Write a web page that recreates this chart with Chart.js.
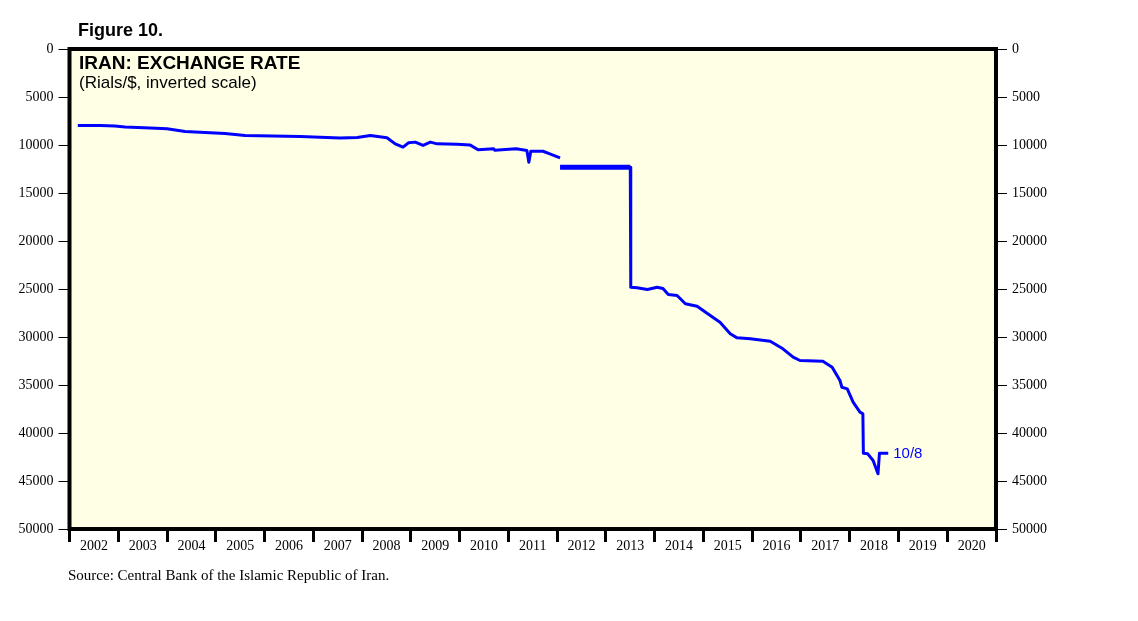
<!DOCTYPE html>
<html>
<head>
<meta charset="utf-8">
<script src="https://cdn.jsdelivr.net/npm/chart.js@4/dist/chart.umd.min.js"></script>
<style>
  body { margin: 0; background: #fff; }
  #wrap { position: relative; width: 1138px; height: 621px; }
  .txt { position: absolute; white-space: nowrap; line-height: 1; color: #000; }
  .sans { font-family: "Liberation Sans", Arial, sans-serif; }
  .serif { font-family: "Liberation Serif", "Times New Roman", serif; }
</style>
</head>
<body>
<div id="wrap">
  <canvas id="rateChart" width="1138" height="621"></canvas>
  <div class="txt sans" style="left:78px; top:21px; font-size:18px; font-weight:bold;">Figure 10.</div>
  <div class="txt sans" style="left:79px; top:53px; font-size:19px; font-weight:bold;">IRAN: EXCHANGE RATE</div>
  <div class="txt sans" style="left:79px; top:74px; font-size:17px;">(Rials/$, inverted scale)</div>
  <div class="txt serif" style="left:68px; top:568px; font-size:15px;">Source: Central Bank of the Islamic Republic of Iran.</div>
</div>
<script>
// 환율 데이터 (리알/달러, 그림에서 읽은 값)
const freeYears = [2002.17, 2002.63, 2002.93, 2003.14, 2003.65, 2004.0, 2004.37, 2005.19, 2005.6, 2006.73,
    2007.55, 2007.9, 2008.17, 2008.51, 2008.68, 2008.84, 2008.95, 2009.09, 2009.25, 2009.4, 2009.54,
    2009.95, 2010.21, 2010.38, 2010.7, 2010.72, 2011.16, 2011.38, 2011.42, 2011.46, 2011.71, 2011.85, 2012.06];
const freeRates = [7970, 7970, 8020, 8120, 8230, 8300, 8590, 8800, 9010, 9110,
    9270, 9220, 9010, 9250, 9880, 10230, 9770, 9700, 10050, 9700, 9880,
    9920, 9990, 10500, 10400, 10550, 10400, 10570, 11790, 10640, 10650, 10920, 11340];

const officialYears = [2012.06, 2013.5];
const officialRates = [12310, 12310];

const newYears = [2013.5, 2013.51, 2013.64, 2013.85, 2014.05, 2014.17, 2014.28, 2014.46, 2014.63, 2014.87,
    2015.14, 2015.34, 2015.55, 2015.69, 2015.96, 2016.37, 2016.63, 2016.84, 2016.98, 2017.45,
    2017.64, 2017.8, 2017.84, 2017.95, 2018.07, 2018.21, 2018.27, 2018.28, 2018.37, 2018.48,
    2018.58, 2018.61, 2018.79];
const newRates = [12310, 24810, 24880, 25050, 24810, 24950, 25570, 25680, 26540, 26790,
    27760, 28460, 29670, 30090, 30190, 30440, 31230, 32100, 32450, 32520,
    33150, 34530, 35230, 35400, 36790, 37830, 38000, 42100, 42170, 42870,
    44250, 42100, 42100];

const lastLabel = '10/8';
const yearTicks = [2002, 2021];
const rateTicks = [0, 50000, 5000];

function toPoints(xs, ys) {
    return xs.map((x, i) => ({ x: x, y: ys[i] }));
}

// 차트 영역 배경과 테두리
const framePlugin = {
    id: 'frame',
    beforeDatasetsDraw(chart) {
        const a = chart.chartArea;
        const ctx = chart.ctx;
        ctx.save();
        ctx.fillStyle = '#FFFFE6';
        ctx.fillRect(a.left, a.top, a.right - a.left, a.bottom - a.top);
        ctx.restore();
    },
    afterDatasetsDraw(chart) {
        const a = chart.chartArea;
        const ctx = chart.ctx;
        ctx.save();
        ctx.strokeStyle = '#000';
        ctx.lineWidth = 4;
        ctx.strokeRect(a.left, a.top, a.right - a.left, a.bottom - a.top);

        // 마지막 값 라벨
        const xs = chart.scales.x;
        const ys = chart.scales.y;
        const px = xs.getPixelForValue(newYears[newYears.length - 1]);
        const py = ys.getPixelForValue(newRates[newRates.length - 1]);
        ctx.fillStyle = '#0000FF';
        ctx.font = '15px "Liberation Sans", Arial, sans-serif';
        ctx.textBaseline = 'middle';
        ctx.fillText(lastLabel, px + 5, py + 1);
        ctx.restore();
    }
};

const yTickOpts = {
    stepSize: rateTicks[2],
    color: '#000',
    font: { family: '"Liberation Serif", "Times New Roman", serif', size: 14 },
    padding: 5,
    callback: v => String(v)
};

new Chart(document.getElementById('rateChart'), {
    type: 'line',
    data: {
        datasets: [
            { data: toPoints(freeYears, freeRates), borderColor: '#0000FF', borderWidth: 3 },
            { data: toPoints(officialYears, officialRates), borderColor: '#0000FF', borderWidth: 5 },
            { data: toPoints(newYears, newRates), borderColor: '#0000FF', borderWidth: 3 }
        ]
    },
    options: {
        responsive: false,
        animation: false,
        layout: { padding: { left: 0, right: 0, top: 49, bottom: 62 } },
        elements: {
            point: { radius: 0 },
            line: { tension: 0, borderCapStyle: 'butt', borderJoinStyle: 'round' }
        },
        plugins: { legend: { display: false }, tooltip: { enabled: false } },
        scales: {
            x: {
                type: 'linear',
                min: yearTicks[0],
                max: yearTicks[1],
                border: { display: false },
                grid: { drawOnChartArea: false, drawTicks: true, tickLength: 13, tickWidth: 3, tickColor: '#000' },
                ticks: {
                    stepSize: 1,
                    autoSkip: false,
                    maxRotation: 0,
                    labelOffset: 24.4,
                    padding: -4,
                    color: '#000',
                    font: { family: '"Liberation Serif", "Times New Roman", serif', size: 14 },
                    callback: v => (v < yearTicks[1] ? String(v) : '')
                },
                afterFit: s => { s.height = 30; }
            },
            y: {
                position: 'left',
                reverse: true,
                min: rateTicks[0],
                max: rateTicks[1],
                border: { display: false },
                grid: { drawOnChartArea: false, tickLength: 11, tickColor: '#000', lineWidth: 1 },
                ticks: yTickOpts,
                afterFit: s => { s.width = 69.5; }
            },
            y2: {
                position: 'right',
                reverse: true,
                min: rateTicks[0],
                max: rateTicks[1],
                border: { display: false },
                grid: { drawOnChartArea: false, tickLength: 11, tickColor: '#000', lineWidth: 1 },
                ticks: yTickOpts,
                afterFit: s => { s.width = 142; }
            }
        }
    },
    plugins: [framePlugin]
});
</script>
</body>
</html>
